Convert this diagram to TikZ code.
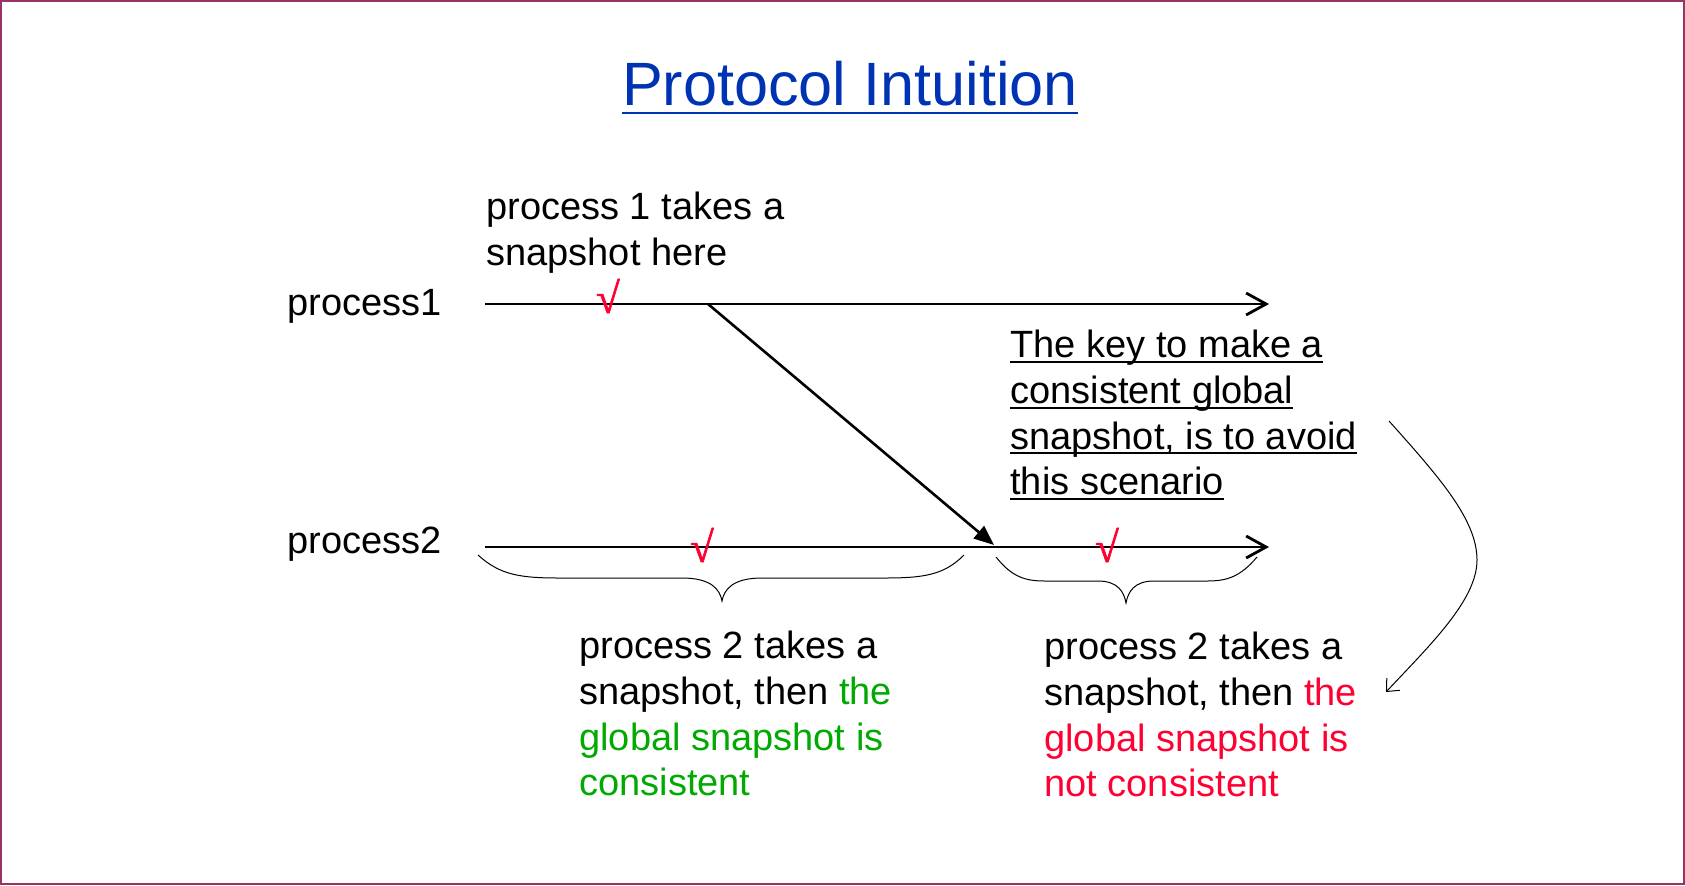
\documentclass[tikz,border=0pt]{standalone}
\usepackage{fontspec}
\setmainfont{Liberation Sans}
\newfontfamily\chkfont[FakeBold=1.5]{Liberation Serif}
\usetikzlibrary{arrows.meta}
\definecolor{titleblue}{RGB}{0,51,179}
\definecolor{okgreen}{RGB}{0,170,0}
\definecolor{badred}{RGB}{255,0,51}
\definecolor{framepurple}{RGB}{153,51,102}
\newcommand{\topstrut}{\rule{0pt}{14pt}}
% underline: #1 depth of rule bottom, #2 thickness, #3 text
\newcommand{\myuline}[3]{{\setbox0=\hbox{#3}\rlap{\rule[-#1]{\wd0}{#2}}\box0}}
\begin{document}
\begin{tikzpicture}[x=0.5pt,y=-0.5pt,
  txt/.style={inner sep=0pt, font=\fontsize{19}{22.9}\selectfont, align=left},
  titletxt/.style={inner sep=0pt, font=\fontsize{30.6}{36}\selectfont, text=titleblue, anchor=base},
  chk/.style={inner sep=0pt, font=\chkfont\fontsize{21.5}{25}\selectfont, text=badred},
  timeline/.style={line width=1.4pt, -{Straight Barb[length=10pt,width=11pt]}},
  msg/.style={line width=1.3pt, -{Triangle[length=10pt,width=8pt]}},
  bracecurve/.style={line width=0.5pt},
  hint/.style={line width=0.5pt, -{Straight Barb[length=5pt,width=9pt]}}]
\useasboundingbox (0,0) rectangle (1685,885);
\draw[framepurple, line width=1pt] (1,1) rectangle (1684,884);

% title
\node[titletxt] (title) at (850,105) {\myuline{4.7pt}{1.35pt}{Protocol Intuition}};

% process labels
\node[txt, anchor=base west] (p1label) at (287,315) {process1};
\node[txt, anchor=base west] (p2label) at (287,553) {process2};

% timelines
\coordinate (p1start) at (485,304);
\coordinate (p1end) at (1269,304);
\coordinate (p2start) at (485,547);
\coordinate (p2end) at (1269,547);
\draw[timeline] (p1start) -- (p1end);
\draw[timeline] (p2start) -- (p2end);

% message
\coordinate (msgsrc) at (708,304);
\coordinate (msgdst) at (994,545);
\draw[msg] (msgsrc) -- (msgdst);

% check marks
\node[chk] (c1) at (608,296) {√};
\node[chk] (c2) at (702,545) {√};
\node[chk] (c3) at (1107,545) {√};

% braces
\draw[bracecurve] (478,555) .. controls (500,575) and (520,578) .. (560,578)
  -- (682,578) .. controls (712,578) and (720,590) .. (722,601)
  .. controls (724,590) and (732,578) .. (762,578)
  -- (884,578) .. controls (924,578) and (944,575) .. (964,555);
\draw[bracecurve] (996,557) .. controls (1012,577) and (1025,581) .. (1045,581)
  -- (1098,581) .. controls (1118,581) and (1124,592) .. (1126,603)
  .. controls (1128,592) and (1134,581) .. (1154,581)
  -- (1207,581) .. controls (1227,581) and (1240,577) .. (1257,557);

% texts
\node[txt, anchor=north west] (note1) at (486,191) {\topstrut process 1 takes a\\snapshot here};
\node[txt, anchor=north west] (keynote) at (1010,329) {\topstrut\myuline{2.7pt}{1pt}{The key to make a}\\\myuline{2.7pt}{1pt}{consistent global}\\\myuline{2.7pt}{1pt}{snapshot, is to avoid}\\\myuline{2.7pt}{1pt}{this scenario}};
\node[txt, anchor=north west] (goodnote) at (579,630) {\topstrut process 2 takes a\\snapshot, then \textcolor{okgreen}{the}\\\textcolor{okgreen}{global snapshot is}\\\textcolor{okgreen}{consistent}};
\node[txt, anchor=north west] (badnote) at (1044,631) {\topstrut process 2 takes a\\snapshot, then \textcolor{badred}{the}\\\textcolor{badred}{global snapshot is}\\\textcolor{badred}{not consistent}};

% curved hint arrow
\coordinate (hintsrc) at (1389,421);
\coordinate (hintdst) at (1386,692);
\draw[hint] (hintsrc) .. controls (1440,478) and (1477,520) .. (1477,560)
  .. controls (1477,600) and (1430,645) .. (hintdst);
\end{tikzpicture}
\end{document}
